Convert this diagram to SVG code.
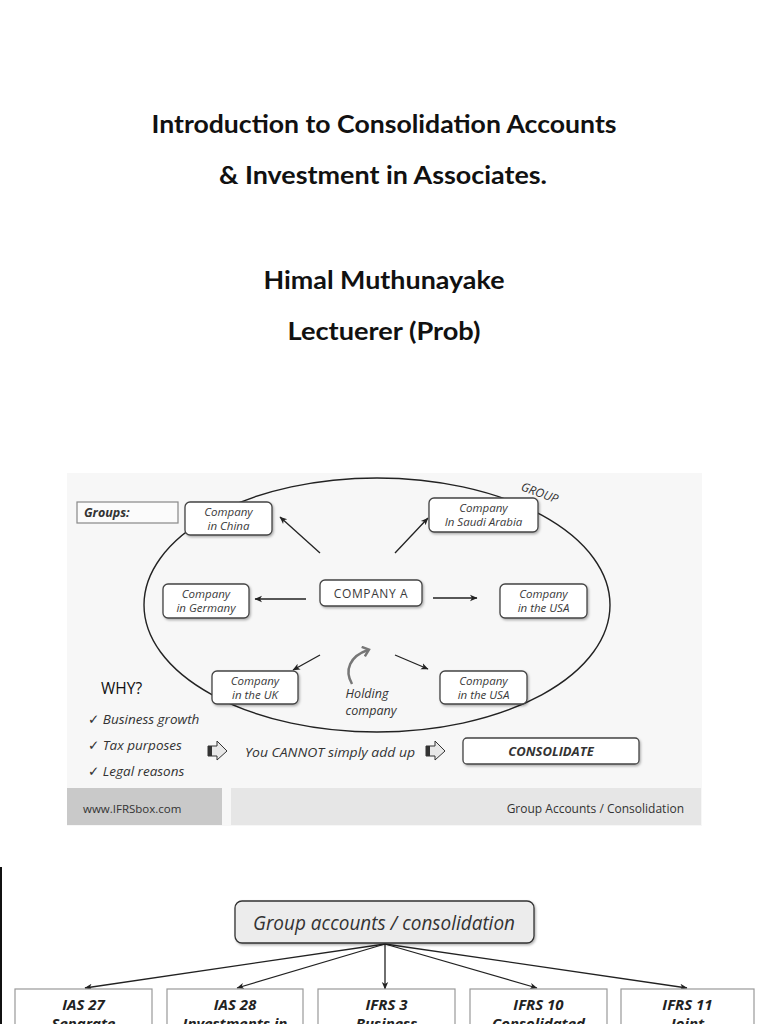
<svg xmlns="http://www.w3.org/2000/svg" width="768" height="1024" viewBox="0 0 768 1024">
<style>
.title{font-family:Lato,"Open Sans","Liberation Sans",sans-serif;font-weight:bold;font-size:24px;fill:#111;text-anchor:middle}
.hand{font-family:"Open Sans","DejaVu Sans",sans-serif;font-style:italic;fill:#333}
.box{fill:#fff;stroke:#444;stroke-width:1.3}
.bt{font-size:11.5px;text-anchor:middle;fill:#3a3a3a}
.con{stroke:#222;stroke-width:1.3;fill:none;marker-end:url(#ah)}
.sq{fill:#fff;stroke:#999;stroke-width:1.2}
.st{font-family:"Open Sans","DejaVu Sans",sans-serif;font-style:italic;font-weight:bold;font-size:15px;text-anchor:middle;fill:#222}
.foot{font-family:"Open Sans","Liberation Sans",sans-serif;fill:#333}
</style>
<defs>
<marker id="ah" markerWidth="8" markerHeight="8" refX="7" refY="4" orient="auto" markerUnits="userSpaceOnUse">
<path d="M0,0.8 L7.5,4 L0,7.2 L2,4 Z" fill="#222"/>
</marker>
<marker id="ahg" markerWidth="12" markerHeight="12" refX="6" refY="6" orient="auto" markerUnits="userSpaceOnUse">
<path d="M1,1 L7,6 L1,11" fill="none" stroke="#777" stroke-width="2.5"/>
</marker>
<filter id="sh" x="-10%" y="-20%" width="130%" height="160%">
<feDropShadow dx="1.2" dy="1.5" stdDeviation="1" flood-color="#000" flood-opacity="0.3"/>
</filter>
</defs>
<rect width="768" height="1024" fill="#fff"/>

<g id="titles">
<text class="title" x="384" y="133" textLength="465" lengthAdjust="spacingAndGlyphs">Introduction to Consolidation Accounts</text>
<text class="title" x="383" y="184" textLength="328" lengthAdjust="spacingAndGlyphs">&amp; Investment in Associates.</text>
<text class="title" x="384" y="289" textLength="241" lengthAdjust="spacingAndGlyphs">Himal Muthunayake</text>
<text class="title" x="384" y="340" textLength="193" lengthAdjust="spacingAndGlyphs">Lectuerer (Prob)</text>
</g>

<!-- top picture -->
<rect x="67" y="473" width="635" height="353" fill="#f7f7f7"/>
<rect x="67" y="788" width="155" height="37" fill="#c9c9c9"/>
<rect x="231" y="788" width="470" height="37" fill="#e6e6e6"/>
<text class="foot" x="83" y="813" font-size="11.5">www.IFRSbox.com</text>
<text class="foot" x="684" y="813" font-size="12" text-anchor="end">Group Accounts / Consolidation</text>

<g id="groups-label">
<rect x="77" y="502" width="101" height="21" fill="#fbfbfb" stroke="#888" stroke-width="1.2"/>
<text class="hand" x="84" y="517" font-size="12.5" font-weight="bold" fill="#222">Groups:</text>
</g>

<g id="group-ellipse">
<ellipse cx="377" cy="605" rx="233" ry="127" fill="none" stroke="#222" stroke-width="1.4"/>
<text class="hand" x="540" y="497" font-size="12" fill="#222" text-anchor="middle" transform="rotate(20 540 492)">GROUP</text>
</g>

<g id="connectors-top">
<line class="con" x1="320" y1="553" x2="280" y2="517"/>
<line class="con" x1="306" y1="599" x2="255" y2="599"/>
<line class="con" x1="395" y1="553" x2="428" y2="518"/>
<line class="con" x1="433" y1="598" x2="477" y2="598"/>
<line class="con" x1="320" y1="655" x2="293" y2="670"/>
<line class="con" x1="395" y1="655" x2="428" y2="669"/>
<path d="M352,684 C344,670 350,656 368,650" fill="none" stroke="#777" stroke-width="2.5" marker-end="url(#ahg)"/>
</g>

<g id="company-china">
<rect class="box" x="185" y="502" width="87" height="33" rx="5" filter="url(#sh)"/>
<text class="hand bt" x="228.5" y="516">Company</text>
<text class="hand bt" x="228.5" y="530">in China</text>
</g>
<g id="company-germany">
<rect class="box" x="163" y="584" width="86" height="34" rx="5" filter="url(#sh)"/>
<text class="hand bt" x="206" y="598">Company</text>
<text class="hand bt" x="206" y="612">in Germany</text>
</g>
<g id="company-a">
<rect class="box" x="320" y="580" width="102" height="26" rx="5" filter="url(#sh)"/>
<text x="371" y="598" font-family="'Open Sans','DejaVu Sans',sans-serif" font-size="12" fill="#3a3a3a" text-anchor="middle" letter-spacing="0.6">COMPANY A</text>
</g>
<g id="company-saudi">
<rect class="box" x="429" y="498" width="109" height="34" rx="5" filter="url(#sh)"/>
<text class="hand bt" x="483.5" y="512">Company</text>
<text class="hand bt" x="483.5" y="526">In Saudi Arabia</text>
</g>
<g id="company-usa-right">
<rect class="box" x="500" y="584" width="87" height="34" rx="5" filter="url(#sh)"/>
<text class="hand bt" x="543.5" y="598">Company</text>
<text class="hand bt" x="543.5" y="612">in the USA</text>
</g>
<g id="company-uk">
<rect class="box" x="212" y="671" width="86" height="33" rx="5" filter="url(#sh)"/>
<text class="hand bt" x="255" y="685">Company</text>
<text class="hand bt" x="255" y="699">in the UK</text>
</g>
<g id="company-usa-bottom">
<rect class="box" x="440" y="671" width="87" height="33" rx="5" filter="url(#sh)"/>
<text class="hand bt" x="483.5" y="685">Company</text>
<text class="hand bt" x="483.5" y="699">in the USA</text>
</g>
<g id="holding">
<text class="hand" x="367" y="698" font-size="12.5" text-anchor="middle" fill="#222">Holding</text>
<text class="hand" x="371" y="715" font-size="12.5" text-anchor="middle" fill="#222">company</text>
</g>

<g id="why">
<text x="101" y="694" font-family="'Open Sans','DejaVu Sans',sans-serif" font-size="15.5" fill="#111">WHY?</text>
<text class="hand" x="88" y="724" font-size="13.5" fill="#111">✓ Business growth</text>
<text class="hand" x="88" y="750" font-size="13.5" fill="#111">✓ Tax purposes</text>
<text class="hand" x="88" y="776" font-size="13.5" fill="#111">✓ Legal reasons</text>
</g>

<g id="block-arrow-1">
<polygon points="208,746 217,746 217,741 227,751 217,760 217,756 208,756" fill="#e8e8e8" stroke="#333" stroke-width="1"/>
<rect x="208" y="746" width="4" height="10" fill="#333"/>
</g>
<text class="hand" x="245" y="757" font-size="13.5" fill="#111" textLength="170" lengthAdjust="spacingAndGlyphs">You CANNOT simply add up</text>
<g id="block-arrow-2">
<polygon points="426,746 435,746 435,741 445,751 435,760 435,756 426,756" fill="#e8e8e8" stroke="#333" stroke-width="1"/>
<rect x="426" y="746" width="4" height="10" fill="#333"/>
</g>
<g id="consolidate">
<rect class="box" x="463" y="738" width="176" height="26" rx="4" filter="url(#sh)"/>
<text class="hand" x="551" y="756" font-size="13" font-weight="bold" text-anchor="middle" fill="#222">CONSOLIDATE</text>
</g>

<!-- bottom -->
<rect x="0" y="867" width="2" height="157" fill="#111"/>

<g id="connectors-bottom">
<line class="con" x1="385" y1="944" x2="85" y2="988"/>
<line class="con" x1="385" y1="944" x2="237" y2="988"/>
<line class="con" x1="385" y1="944" x2="385" y2="989"/>
<line class="con" x1="385" y1="944" x2="537" y2="988"/>
<line class="con" x1="385" y1="944" x2="687" y2="988"/>
</g>

<g id="group-accounts">
<rect x="235" y="901" width="299" height="42" rx="7" fill="#ececec" stroke="#333" stroke-width="1.3" filter="url(#sh)"/>
<text class="hand" x="384" y="930" font-size="20" text-anchor="middle" fill="#111" textLength="262" lengthAdjust="spacingAndGlyphs">Group accounts / consolidation</text>
</g>

<g id="ias27">
<rect class="sq" x="15" y="989" width="137" height="60"/>
<text class="st" x="83.5" y="1010">IAS 27</text>
<text class="st" x="83.5" y="1029">Separate</text>
</g>
<g id="ias28">
<rect class="sq" x="167" y="989" width="136" height="60"/>
<text class="st" x="235" y="1010">IAS 28</text>
<text class="st" x="235" y="1029">Investments in</text>
</g>
<g id="ifrs3">
<rect class="sq" x="318" y="989" width="137" height="60"/>
<text class="st" x="386.5" y="1010">IFRS 3</text>
<text class="st" x="386.5" y="1029">Business</text>
</g>
<g id="ifrs10">
<rect class="sq" x="470" y="989" width="137" height="60"/>
<text class="st" x="538.5" y="1010">IFRS 10</text>
<text class="st" x="538.5" y="1029">Consolidated</text>
</g>
<g id="ifrs11">
<rect class="sq" x="621" y="989" width="133" height="60"/>
<text class="st" x="687.5" y="1010">IFRS 11</text>
<text class="st" x="687.5" y="1029">Joint</text>
</g>
</svg>
